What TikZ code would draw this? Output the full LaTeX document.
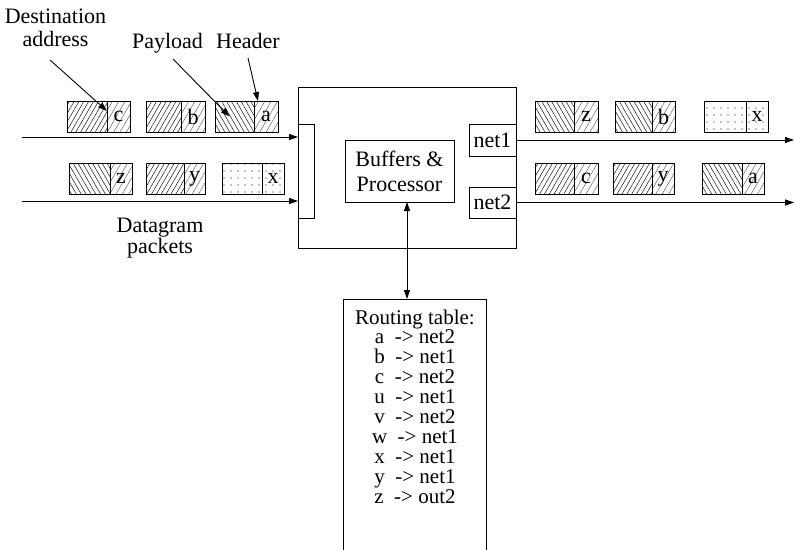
\documentclass[tikz,border=0pt]{standalone}
\usepackage{fontspec}
\setmainfont{Liberation Serif}
\newfontfamily\tms{Liberation Serif}
\usetikzlibrary{arrows.meta,patterns.meta}
\newcommand{\pkt}[8]{%
  \node[pbox, #7, minimum width=#4pt] (#1p) at (#2,#3) {};
  \node[pbox, #8, minimum width=#5pt] (#1h) at (#1p.north east) {#6};
}
\begin{document}
\begin{tikzpicture}[x=1pt,y=-1pt, line width=0.9pt,
  font=\tms\fontsize{22}{23}\selectfont,
  arr/.style={-{Triangle[length=9pt,width=6pt]}},
  darr/.style={{Triangle[length=9pt,width=6pt]}-{Triangle[length=9pt,width=6pt]}},
  box/.style={draw, inner sep=0pt, outer sep=0pt},
  pbox/.style={draw, anchor=north west, minimum height=31pt, inner sep=0pt, outer sep=0pt},
  hatchNE/.style={pattern={Lines[angle=60,distance=4.2pt,line width=0.45pt]}},
  hatchNW/.style={pattern={Lines[angle=120,distance=4.2pt,line width=0.45pt]}},
  hatchH/.style={pattern={Lines[angle=60,distance=5.5pt,line width=0.4pt]}, pattern color=black!70},
  dotfill/.style={pattern={Dots[distance=7pt,radius=0.55pt]}},
]
\useasboundingbox (0,0) rectangle (794,549);

% router
\node[box, minimum width=218pt, minimum height=161pt] (main) at (407,167.5) {};
\node[box, minimum width=16pt, minimum height=94pt] (bar) at (306,171) {};
\node[box, minimum width=47pt, minimum height=32pt] (net1) at (492.5,140) {net1};
\node[box, minimum width=47pt, minimum height=31pt] (net2) at (492.5,202.5) {net2};
\node[box, minimum width=109pt, minimum height=62pt, align=center,
      font=\tms\fontsize{22}{25}\selectfont] (buf) at (399.5,171) {Buffers \&\\Processor};

% routing table
\node[anchor=north, minimum width=142pt, inner xsep=0pt, inner ysep=10pt, align=center,
      font=\tms\fontsize{21}{19.9}\selectfont] (tbl) at (415,299)
  {Routing table:\\
   a~~-> net2\\
   b~~-> net1\\
   c~~-> net2\\
   u~~-> net1\\
   v~~-> net2\\
   w~~-> net1\\
   x~~-> net1\\
   y~~-> net1\\
   z~~-> out2};
\draw ([yshift=-300pt]tbl.north west) -- (tbl.north west) -- (tbl.north east) -- ([yshift=-300pt]tbl.north east);

\coordinate (vt) at ([xshift=7.5pt]buf.south);
\draw[darr] (vt) -- (vt |- tbl.north);

% input / output lines
\coordinate (i1) at (22,137);
\coordinate (i2) at (22,201);
\coordinate (o1) at (794,140);
\draw[arr] (i1) -- (i1 -| main.west);
\draw[arr] (i2) -- (i2 -| main.west);
\draw[arr] (net1.east) -- (net1.east -| o1);
\draw[arr] (net2.east) -- (net2.east -| o1);

% packets, input top row
\pkt{tc}{67}{101}{40}{23}{c}{hatchNE}{hatchH}
\pkt{tb}{146}{101}{35}{24}{b}{hatchNE}{hatchH}
\pkt{ta}{215}{101}{39}{24}{a}{hatchNW}{hatchH}
% input bottom row
\pkt{bz}{69}{163}{41}{22}{z}{hatchNW}{hatchH}
\pkt{by}{146}{163}{38}{21}{y}{hatchNE}{hatchH}
\pkt{bx}{222}{163}{40}{22}{x}{dotfill}{dotfill}
% output top row
\pkt{oz}{535}{101}{39}{24}{z}{hatchNW}{hatchH}
\pkt{ob}{615}{101}{37}{23}{b}{hatchNW}{hatchH}
\pkt{ox}{704}{101}{42}{22}{x}{dotfill}{dotfill}
% output bottom row
\pkt{rc}{535}{163}{39}{24}{c}{hatchNE}{hatchH}
\pkt{ry}{613}{163}{39}{22}{y}{hatchNE}{hatchH}
\pkt{ra}{702}{163}{40}{22}{a}{hatchNW}{hatchH}

% labels
\node[align=center, inner sep=0pt] (dlab) at (55.5,27.5) {Destination\\address};
\node[anchor=base, inner sep=0pt] (plab) at (167.5,48) {Payload};
\node[anchor=base, inner sep=0pt] (hlab) at (248,48) {Header};
\node[align=center, inner sep=0pt, font=\tms\fontsize{22}{20}\selectfont] (glab) at (160,238) {Datagram\\packets};

\coordinate (ds) at (50,60);
\coordinate (ps) at (173,59);
\coordinate (hs) at (248,58);
\draw[arr] (ds) -- ([yshift=-10pt]tcp.north east);
\draw[arr] (ps) -- ([xshift=-5pt]tap.center);
\draw[arr] (hs) -- ([xshift=-8pt]tah.north);
\end{tikzpicture}
\end{document}
